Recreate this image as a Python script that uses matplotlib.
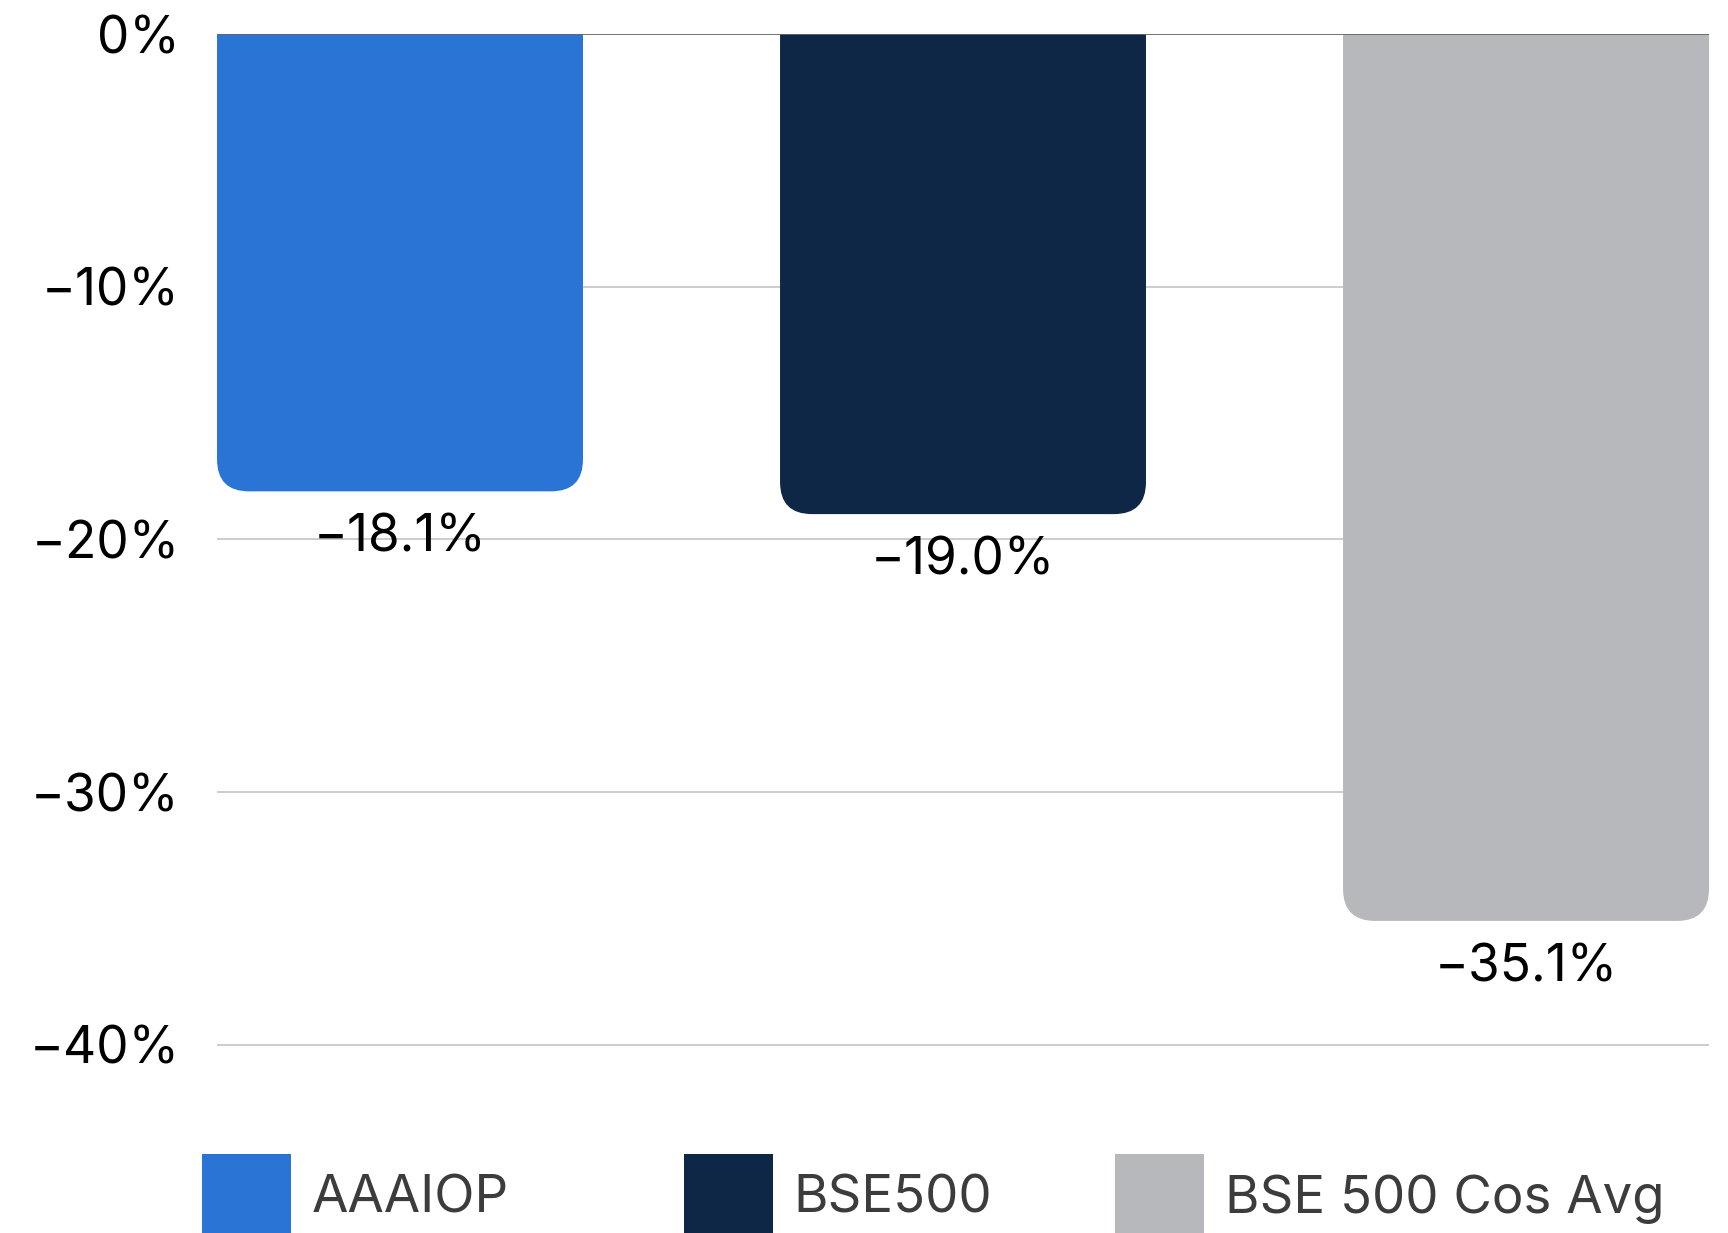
import matplotlib.pyplot as plt
from matplotlib.patches import FancyBboxPatch, Patch

plt.rcParams['font.family'] = ['Inter', 'DejaVu Sans']

categories = ['AAAIOP', 'BSE500', 'BSE 500 Cos Avg']
values = [-18.1, -19.0, -35.1]
colors = ['#2a74d5', '#0e2746', '#b7b8bc']
yticks = [0, -10, -20, -30, -40]

fig = plt.figure(figsize=(17.28, 12.33), dpi=100)
ax = fig.add_axes([0.1256, 0.1322, 0.8634, 0.8402])

width = 0.65
ax.set_xlim(-width / 2, len(values) - 1 + width / 2)
ax.set_ylim(-41, 0)

# aspect between y data units and x data units per pixel, for round corners
bbox = ax.get_window_extent()
x_per_px = (len(values) - 1 + width) / bbox.width
y_per_px = 41 / bbox.height
aspect = y_per_px / x_per_px
radius = 32 * x_per_px

for i, (v, c) in enumerate(zip(values, colors)):
    # box runs above 0 so only the lower corners show rounded
    top = 5
    box = FancyBboxPatch((i - width / 2, v), width, top - v,
                         boxstyle=f'round,pad=0,rounding_size={radius}',
                         mutation_aspect=aspect, facecolor=c,
                         edgecolor='none', zorder=3)
    ax.add_patch(box)
    ax.annotate(f'{v:.1f}%'.replace('-', '\u2212'), (i, v), xytext=(0, -16),
                textcoords='offset points', ha='center', va='top',
                fontsize=37, color='black', zorder=4)

ax.set_yticks(yticks)
ax.set_yticklabels([f'{t}%'.replace('-', '\u2212') for t in yticks])
ax.tick_params(axis='y', length=0, pad=27, labelsize=37, labelcolor='black')
ax.set_xticks([])
for t in yticks[1:]:
    ax.axhline(t, color='#c8c8c8', lw=1.3, zorder=1)
ax.axhline(0, color='#666666', lw=1.3, zorder=5)
for s in ax.spines.values():
    s.set_visible(False)

# legend, one entry per block
leg_x = [202, 684, 1115]
for x, cat, c in zip(leg_x, categories, colors):
    lg = fig.legend(handles=[Patch(facecolor=c, edgecolor='none')], labels=[cat],
                    loc='center left', bbox_to_anchor=(x / 1728, 1 - 1196 / 1233),
                    frameon=False, fontsize=38, handlelength=1.68, handleheight=2.1,
                    handletextpad=0.4, borderpad=0, borderaxespad=0)
    for txt in lg.get_texts():
        txt.set_color('#3c3c3c')

fig.savefig('out.png', dpi=100)
